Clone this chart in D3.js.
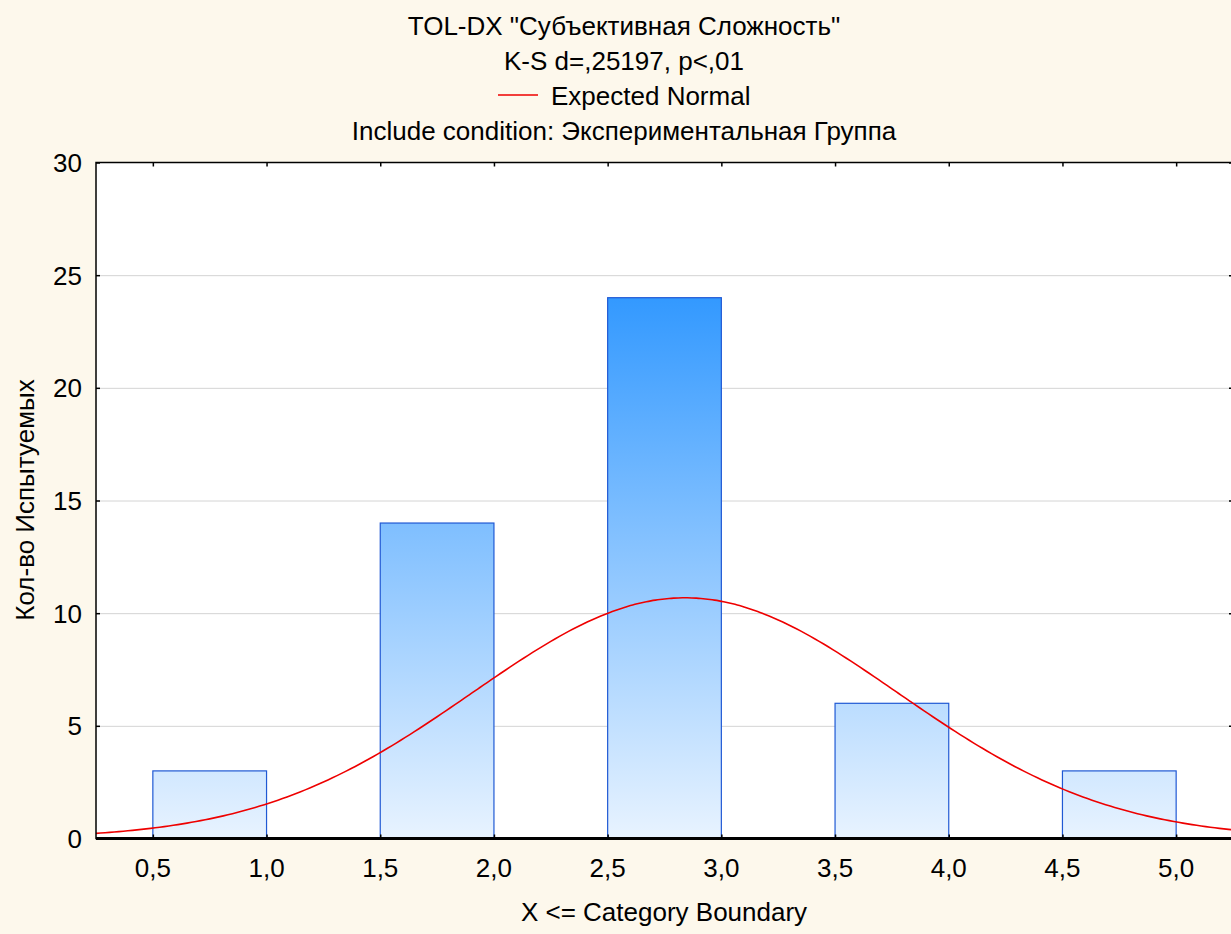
<!DOCTYPE html>
<html>
<head>
<meta charset="utf-8">
<script src="https://cdn.jsdelivr.net/npm/d3@7"></script>
<style>
  body { margin: 0; background: #fdf8ec; }
  svg { display: block; font-family: "Liberation Sans", Arial, sans-serif; }
</style>
</head>
<body>
<svg width="1231" height="934"></svg>
<script>
// The svg
var svg = d3.select("svg"),
  width = +svg.attr("width"),
  height = +svg.attr("height");

// Data: bins (lower, upper] and counts
var binLower = [0.5, 1.5, 2.5, 3.5, 4.5];
var binUpper = [1.0, 2.0, 3.0, 4.0, 5.0];
var binValue = [1, 2, 3, 4, 5];     // raw value falling in each bin
var counts = [3, 14, 24, 6, 3];
var xTicks = [0.5, 1.0, 1.5, 2.0, 2.5, 3.0, 3.5, 4.0, 4.5, 5.0];
var yTicks = [0, 5, 10, 15, 20, 25, 30];

var titleLines = ['TOL-DX "Субъективная Сложность"', "K-S d=,25197, p<,01"];
var conditionLine = "Include condition: Экспериментальная Группа";

var fontSize = 26;
var margin = {left: 96, top: 162.5, right: -2, bottom: 95.5};
var plotW = width - margin.left - margin.right,
  plotH = height - margin.top - margin.bottom;

var x = d3.scaleLinear().domain([0.25, 5.25]).range([margin.left, margin.left + plotW]);
var y = d3.scaleLinear().domain([0, 30]).range([margin.top + plotH, margin.top]);

var fmt = function(d) { return d3.format(".1f")(d).replace(".", ","); };

// Expected normal from the histogram itself
var n = d3.sum(counts);
var mean = d3.sum(counts.map(function(c, i) { return c * binValue[i]; })) / n;
var ss = d3.sum(counts.map(function(c, i) { return c * Math.pow(binValue[i] - mean, 2); }));
var sd = Math.sqrt(ss / (n - 1));
var binWidth = 0.5;
var normal = function(v) {
  return n * binWidth * Math.exp(-0.5 * Math.pow((v - mean) / sd, 2)) / (sd * Math.sqrt(2 * Math.PI));
};

// plot background
svg.append("rect")
  .attr("x", margin.left).attr("y", margin.top)
  .attr("width", plotW).attr("height", plotH)
  .attr("fill", "white");

// gradient shared by all bars
var defs = svg.append("defs");
var grad = defs.append("linearGradient")
  .attr("id", "barGrad")
  .attr("gradientUnits", "userSpaceOnUse")
  .attr("x1", 0).attr("x2", 0)
  .attr("y1", y(d3.max(counts))).attr("y2", y(0));
grad.append("stop").attr("offset", "0%").attr("stop-color", "#3399ff");
grad.append("stop").attr("offset", "100%").attr("stop-color", "#e8f3ff");

var clip = defs.append("clipPath").attr("id", "plotClip");
clip.append("rect")
  .attr("x", margin.left).attr("y", margin.top)
  .attr("width", plotW).attr("height", plotH);

// gridlines
svg.append("g")
  .selectAll("line")
  .data(yTicks.filter(function(d) { return d > 0 && d < 30; }))
  .enter()
  .append("line")
    .attr("x1", margin.left).attr("x2", margin.left + plotW)
    .attr("y1", function(d) { return y(d) + 0.5; })
    .attr("y2", function(d) { return y(d) + 0.5; })
    .attr("stroke", "#d4d4d4")
    .attr("stroke-width", 1);

// bars
svg.append("g")
  .selectAll("rect")
  .data(counts)
  .enter()
  .append("rect")
    .attr("x", function(d, i) { return x(binLower[i]); })
    .attr("y", function(d) { return y(d); })
    .attr("width", function(d, i) { return x(binUpper[i]) - x(binLower[i]); })
    .attr("height", function(d) { return y(0) - y(d); })
    .attr("fill", "url(#barGrad)")
    .attr("stroke", "#2059d4")
    .attr("stroke-width", 1.2);

// expected normal curve
var curveX = d3.range(0.25, 5.2501, 0.02);
svg.append("path")
  .datum(curveX)
  .attr("clip-path", "url(#plotClip)")
  .attr("fill", "none")
  .attr("stroke", "#ee0000")
  .attr("stroke-width", 1.6)
  .attr("d", d3.line()
    .x(function(d) { return x(d); })
    .y(function(d) { return y(normal(d)); })
    .curve(d3.curveMonotoneX));

// axes (ticks inside)
var tickLen = 4;
svg.append("g")
  .attr("transform", "translate(0," + y(0) + ")")
  .call(d3.axisBottom(x).tickValues(xTicks).tickSize(-tickLen).tickFormat(""))
  .call(function(g) { g.select(".domain").remove(); });
svg.append("g")
  .attr("transform", "translate(0," + y(30) + ")")
  .call(d3.axisTop(x).tickValues(xTicks).tickSize(-tickLen).tickFormat(""))
  .call(function(g) { g.select(".domain").remove(); });
svg.append("g")
  .attr("transform", "translate(" + margin.left + ",0)")
  .call(d3.axisLeft(y).tickValues(yTicks).tickSize(-tickLen).tickFormat(""))
  .call(function(g) { g.select(".domain").remove(); });
svg.append("g")
  .attr("transform", "translate(" + (margin.left + plotW) + ",0)")
  .call(d3.axisRight(y).tickValues(yTicks).tickSize(-tickLen).tickFormat(""))
  .call(function(g) { g.select(".domain").remove(); });
svg.selectAll(".tick line").attr("stroke", "#000").attr("stroke-width", 1.5);

// frame
svg.append("rect")
  .attr("x", margin.left).attr("y", margin.top)
  .attr("width", plotW).attr("height", plotH)
  .attr("fill", "none")
  .attr("stroke", "#000")
  .attr("stroke-width", 1.5);
svg.append("line")
  .attr("x1", margin.left).attr("x2", margin.left + plotW)
  .attr("y1", y(0)).attr("y2", y(0))
  .attr("stroke", "#000").attr("stroke-width", 3);

// tick labels
svg.append("g")
  .selectAll("text")
  .data(xTicks)
  .enter()
  .append("text")
    .attr("x", function(d) { return x(d); })
    .attr("y", 877)
    .attr("text-anchor", "middle")
    .attr("font-size", fontSize)
    .text(fmt);
svg.append("g")
  .selectAll("text")
  .data(yTicks)
  .enter()
  .append("text")
    .attr("x", 82)
    .attr("y", function(d) { return y(d) + 9.5; })
    .attr("text-anchor", "end")
    .attr("font-size", fontSize)
    .text(function(d) { return d; });

// titles
svg.append("g")
  .selectAll("text")
  .data(titleLines)
  .enter()
  .append("text")
    .attr("x", 624)
    .attr("y", function(d, i) { return 34.5 + i * 35; })
    .attr("text-anchor", "middle")
    .attr("font-size", fontSize)
    .text(function(d) { return d; });

// legend
svg.append("line")
  .attr("x1", 498).attr("x2", 538)
  .attr("y1", 95).attr("y2", 95)
  .attr("stroke", "#ee0000").attr("stroke-width", 1.6);
svg.append("text")
  .attr("x", 551).attr("y", 104.5)
  .attr("font-size", fontSize)
  .text("Expected Normal");

svg.append("text")
  .attr("x", 624).attr("y", 139.5)
  .attr("text-anchor", "middle")
  .attr("font-size", fontSize)
  .text(conditionLine);

// axis titles
svg.append("text")
  .attr("x", 664).attr("y", 921)
  .attr("text-anchor", "middle")
  .attr("font-size", fontSize)
  .text("X <= Category Boundary");
svg.append("text")
  .attr("transform", "translate(34,500) rotate(-90)")
  .attr("text-anchor", "middle")
  .attr("font-size", fontSize)
  .text("Кол-во Испытуемых");
</script>
</body>
</html>
